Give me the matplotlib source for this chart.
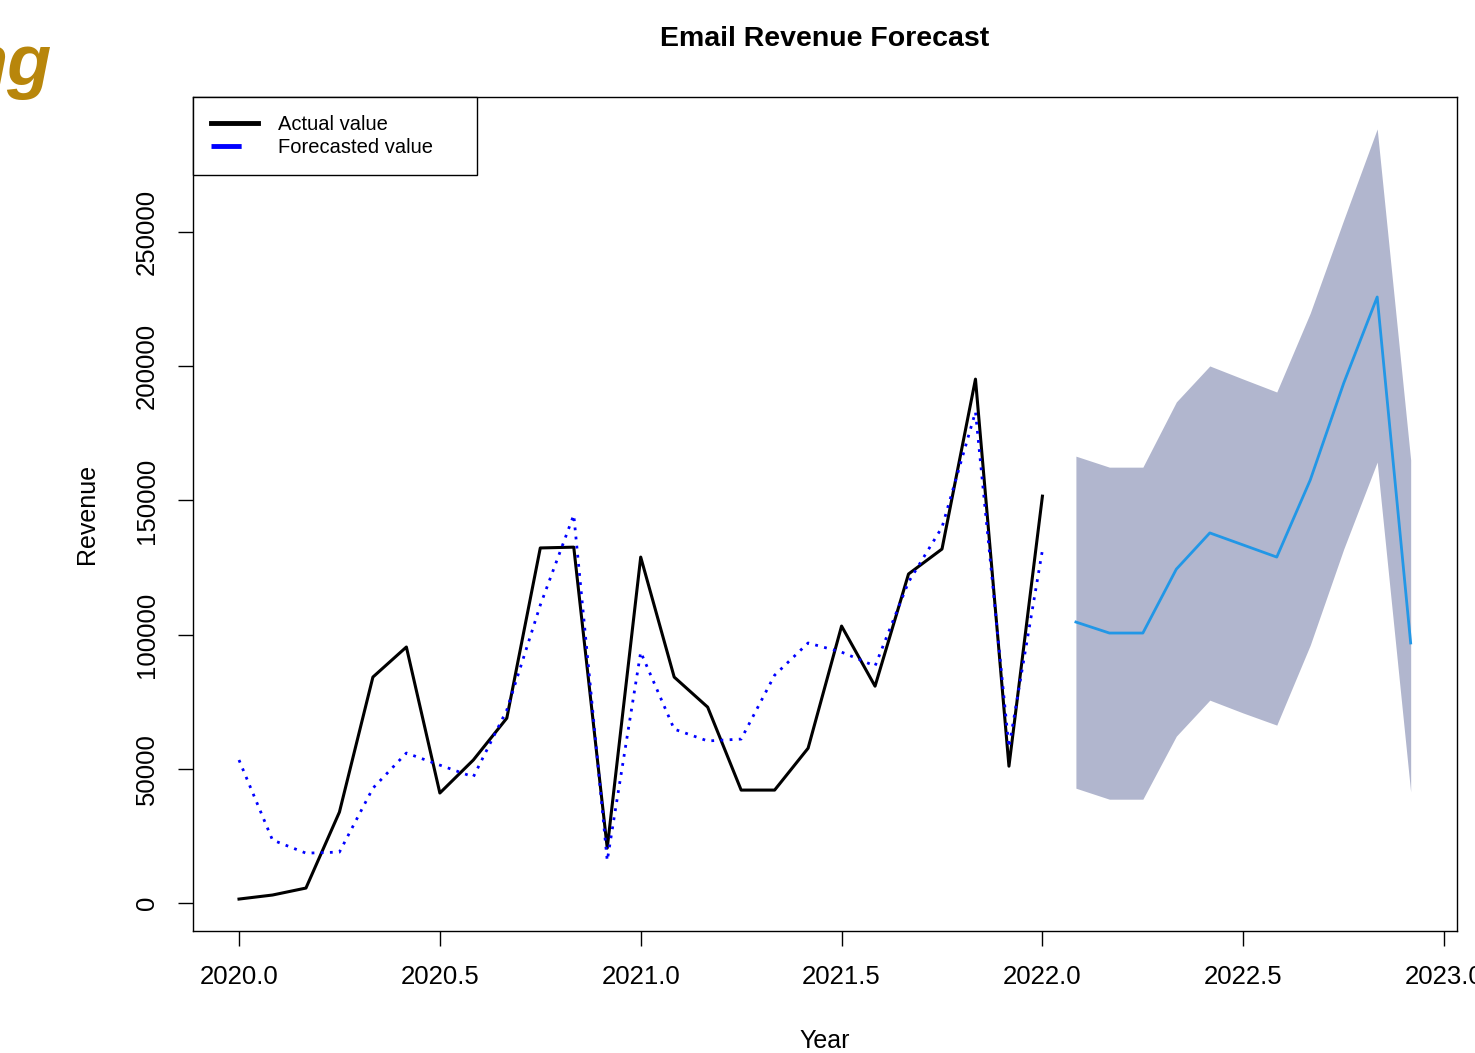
import matplotlib
matplotlib.use("Agg")
from matplotlib import pyplot as plt
from matplotlib.lines import Line2D
import numpy as np

plt.rcParams['font.family'] = ['Liberation Sans', 'DejaVu Sans']

# monthly series, Jan 2020 .. Jan 2022
actual = [1500, 3000, 5600, 33900, 84200, 95400, 41000, 53300, 68900, 132300, 132600, 20500,
          128900, 84200, 73000, 42100, 42100, 57700, 103200, 80800, 122600, 131900, 195200, 51000,
          151600]
fitted = [53300, 23500, 18600, 19000, 42800, 55900, 51400, 47000, 71900, 111000, 144600, 15800,
          93500, 64800, 60400, 61100, 84900, 96900, 93500, 88300, 119600, 140000, 183000, 58000,
          131500]

# forecast Feb 2022 .. Dec 2022
fc_mean = [104700, 100600, 100600, 124400, 137900, 133400, 128900, 157600, 193700, 225800, 96900]
fc_upper = [166500, 162400, 162400, 186700, 200100, 195200, 190400, 219800, 254500, 288400, 165100]
fc_lower = [42800, 38700, 38700, 62200, 75600, 70800, 66300, 96100, 131900, 164300, 41400]

x_ticks = [2020.0, 2020.5, 2021.0, 2021.5, 2022.0, 2022.5, 2023.0]
y_ticks = [0, 50000, 100000, 150000, 200000, 250000]

t_hist = 2020 + np.arange(len(actual)) / 12
t_fc = 2022 + np.arange(1, len(fc_mean) + 1) / 12

fig = plt.figure(figsize=(14.75, 10.53), dpi=100)
ax = fig.add_axes([193 / 1475, 1 - 931 / 1053, 1264 / 1475, 834 / 1053])

ax.fill_between(t_fc, fc_lower, fc_upper, color='#b1b6ce', linewidth=0, zorder=1)
ax.plot(t_fc, fc_mean, color='#2297e6', lw=2, zorder=2)
ax.plot(t_hist, actual, color='black', lw=2.2, zorder=3)
ax.plot(t_hist, fitted, color='blue', lw=2, linestyle=(0, (1, 2.3)), zorder=4)

ax.set_xlim(2019.8855, 2023.032)
ax.set_ylim(-10400, 300300)
ax.set_xticks(x_ticks)
ax.set_xticklabels(['%.1f' % v for v in x_ticks])
ax.set_yticks(y_ticks)
ax.set_yticklabels([str(v) for v in y_ticks])

ax.tick_params(axis='both', length=10.8, width=1, color='black', labelsize=18.5)
ax.tick_params(axis='x', pad=14)
ax.tick_params(axis='y', pad=14, labelrotation=90)
for lab in ax.get_yticklabels():
    lab.set_verticalalignment('center')

for s in ax.spines.values():
    s.set_linewidth(1)
    s.set_color('black')

ax.set_title('Email Revenue Forecast', fontsize=20.5, fontweight='bold', pad=36.5)
ax.set_xlabel('Year', fontsize=18)
ax.set_ylabel('Revenue', fontsize=18)
ax.xaxis.set_label_coords(0.5, -0.118)
ax.yaxis.set_label_coords(-0.074, 0.5)

handles = [Line2D([], [], color='black', lw=3.5),
           Line2D([], [], color='blue', lw=3.5, linestyle=(0, (6.2, 10)))]
leg = ax.legend(handles, ['Actual value', 'Forecasted value'], loc='upper left',
                bbox_to_anchor=(0, 0, 284 / 1264, 1), mode='expand', borderaxespad=0,
                fontsize=14.5, handlelength=2.33, handletextpad=1.0, labelspacing=0.2,
                borderpad=0.9, fancybox=False, framealpha=1, edgecolor='black')
leg.get_frame().set_linewidth(1)

fig.text(52 / 1475, 1 - 85 / 1053, 'ng', color='#b8860b', fontsize=52,
         fontweight='bold', fontstyle='italic', ha='right', va='baseline')

fig.savefig('out.png', dpi=100)
